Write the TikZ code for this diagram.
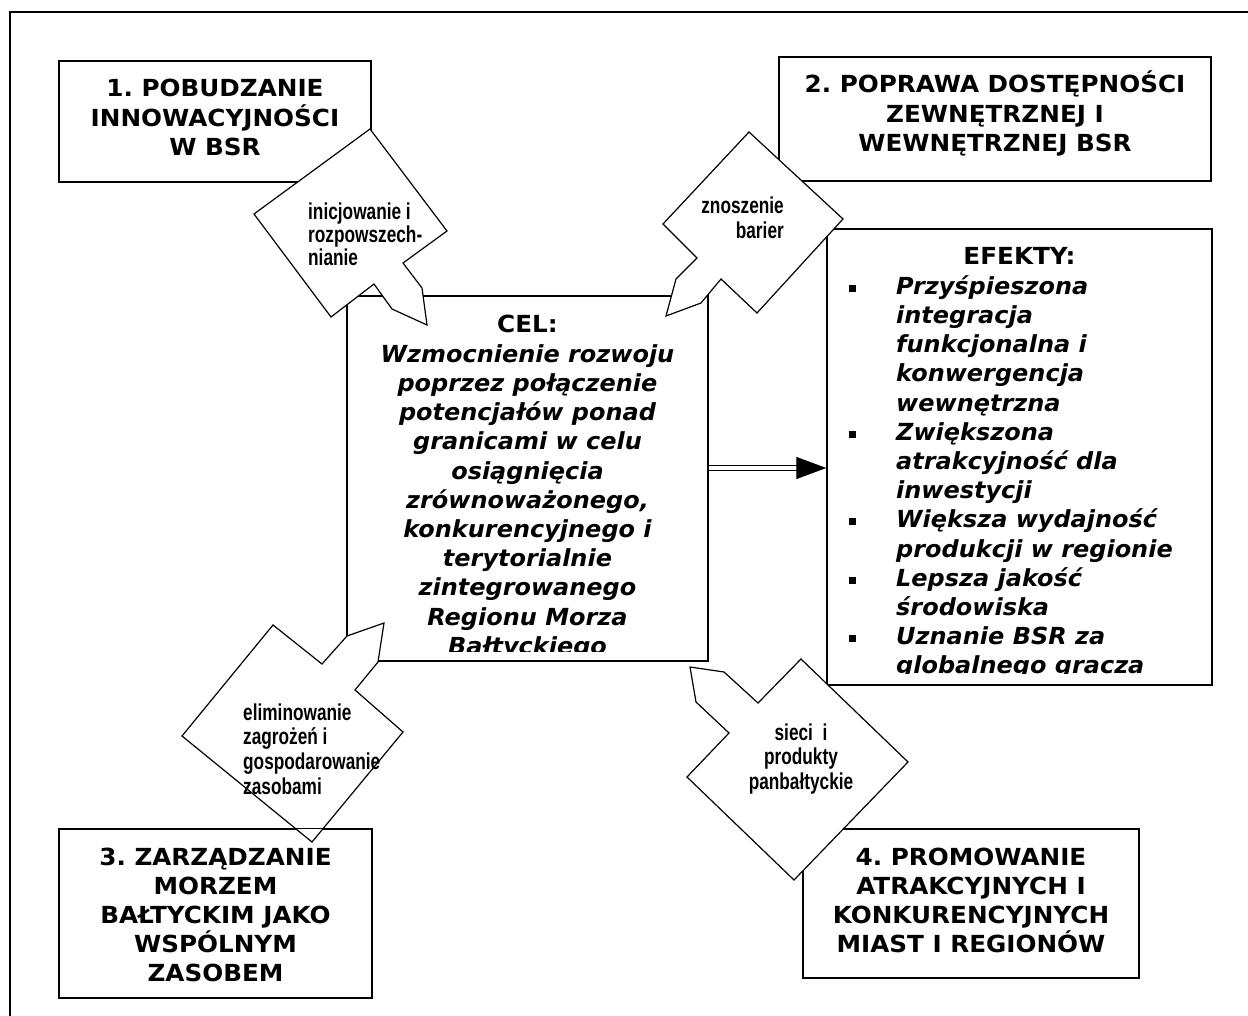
\documentclass[tikz,border=0pt]{standalone}
\usepackage{fontspec}
\setmainfont{DejaVu Sans}[BoldFeatures={FakeStretch=1.05}, BoldItalicFeatures={FakeStretch=1.02}]
\newfontfamily\narrowfont[FakeStretch=0.75]{Liberation Sans}
\usetikzlibrary{shapes,arrows,positioning,shadows,arrows.meta}
\frenchspacing

\tikzset{
  goalbox/.style={draw, line width=1.4pt, fill=white, inner sep=0pt,
    drop shadow={shadow xshift=1.2pt, shadow yshift=-1.2pt, opacity=1, fill=black!55}},
  goaltext/.style={font=\fontsize{23.5}{29.2}\selectfont\bfseries, anchor=base, inner sep=0pt},
  goalital/.style={goaltext, font=\fontsize{23.5}{29.2}\selectfont\bfseries\itshape},
  callout/.style={draw, line width=1.2pt, fill=white, line join=miter},
  callouttext/.style={font=\narrowfont\bfseries\fontsize{23}{24}\selectfont, inner sep=0pt},
}

\begin{document}
\begin{tikzpicture}[x=1pt, y=-1pt]
    \useasboundingbox (0,0) rectangle (1248,1016);

    % Outer frame
    \draw [line width=2pt] (10,12) rectangle (1300,1100);

    % Priority boxes
    \node[goalbox, minimum width=312pt, minimum height=121pt] (g1) at (215,121.5) {};
    \foreach \ln [count=\i from 0] in {1. POBUDZANIE, INNOWACYJNOŚCI, W BSR}
        \node[goaltext] (g1l\i) at (215, 97+29.2*\i) {\ln};

    \node[goalbox, minimum width=432pt, minimum height=124pt] (g2) at (995,119) {};
    \foreach \ln [count=\i from 0] in {2. POPRAWA DOSTĘPNOŚCI, ZEWNĘTRZNEJ I, WEWNĘTRZNEJ BSR}
        \node[goaltext] (g2l\i) at (995, 93+29.2*\i) {\ln};

    \node[goalbox, minimum width=313pt, minimum height=169pt] (g3) at (215.5,913.5) {};
    \foreach \ln [count=\i from 0] in {3. ZARZĄDZANIE, MORZEM, BAŁTYCKIM JAKO, WSPÓLNYM, ZASOBEM}
        \node[goaltext] (g3l\i) at (215.5, 865+29*\i) {\ln};

    \node[goalbox, minimum width=336pt, minimum height=149pt] (g4) at (971,903.5) {};
    \foreach \ln [count=\i from 0] in {4. PROMOWANIE, ATRAKCYJNYCH I, KONKURENCYJNYCH, MIAST I REGIONÓW}
        \node[goaltext] (g4l\i) at (971, 865+29*\i) {\ln};

    % Goal
    \node[goalbox, minimum width=361pt, minimum height=365pt] (cel) at (527.5,478.5) {};
    \begin{scope}
        \clip (cel.north west) rectangle ([yshift=10pt]cel.south east);
        \node[goaltext] (celhead) at (527.5,333) {CEL:};
        \foreach \ln [count=\i] in {Wzmocnienie rozwoju, poprzez połączenie, potencjałów ponad,
            granicami w celu, osiągnięcia, {zrównoważonego,}, konkurencyjnego i, terytorialnie,
            zintegrowanego, Regionu Morza, Bałtyckiego}
            \node[goalital] (cell\i) at (527.5, 333+29.2*\i) {\ln};
    \end{scope}

    % Effects
    \node[goalbox, minimum width=385pt, minimum height=456pt] (efekty) at (1019.5,457) {};
    \begin{scope}
        \clip (efekty.north west) rectangle ([yshift=12pt]efekty.south east);
        \node[goaltext] (efhead) at (1019.5,265) {EFEKTY:};
        \foreach \ln [count=\i] in {Przyśpieszona, integracja, funkcjonalna i, konwergencja,
            wewnętrzna, Zwiększona, atrakcyjność dla, inwestycji, Większa wydajność,
            produkcji w regionie, Lepsza jakość, środowiska, Uznanie BSR za, globalnego gracza}
            \node[goalital, anchor=base west] (efl\i) at (896, 265+29.2*\i) {\ln};
        \foreach \k in {1,6,9,11,13}
            \fill (849, 265+29.2*\k-9.5) rectangle ++(7,7);
    \end{scope}

    % Goal -> effects
    \coordinate (ar) at (0,468);
    \draw [line width=1.3pt, double, double distance=4pt, -{Triangle[length=30pt, width=22pt]}]
        (cel.east |- ar) -- (efekty.west |- ar);

    % Callouts
    \draw[callout] (254,214) -- (370,129) -- (447,231) -- (403,263) -- (422,288) -- (427,325)
        -- (392,309) -- (374,284) -- (331,317) -- cycle;
    \foreach \ln [count=\i from 0] in {inicjowanie i, rozpowszech-, nianie}
        \node[callouttext, anchor=base west] (c1l\i) at (308, 220+23*\i) {\ln};

    \draw[callout] (663,224) -- (749,132) -- (843,219) -- (757,313) -- (721,279) -- (701,303)
        -- (666,316) -- (676,279) -- (697,258) -- cycle;
    \foreach \ln [count=\i from 0] in {znoszenie, barier}
        \node[callouttext, anchor=base east] (c2l\i) at (784, 214+25*\i) {\ln};

    \draw[callout] (273,625) -- (322,664) -- (347,636) -- (384,623) -- (378,662) -- (355,690)
        -- (403,732) -- (312,842) -- (182,736) -- cycle;
    \foreach \ln [count=\i from 0] in {eliminowanie, zagrożeń i, gospodarowanie, zasobami}
        \node[callouttext, anchor=base west] (c3l\i) at (243, 720+24.7*\i) {\ln};

    \draw[callout] (801,659) -- (908,762) -- (794,880) -- (687,777) -- (729,733) -- (696,702)
        -- (690,667) -- (724,672) -- (758,703) -- cycle;
    \foreach \ln [count=\i from 0] in {sieci\ \ i, produkty, panbałtyckie}
        \node[callouttext, anchor=base] (c4l\i) at (801, 740+24.5*\i) {\ln};

    % box 3 edge lies over its callout
    \draw [line width=1.4pt] (g3.north west) -- (g3.north east);
\end{tikzpicture}
\end{document}
